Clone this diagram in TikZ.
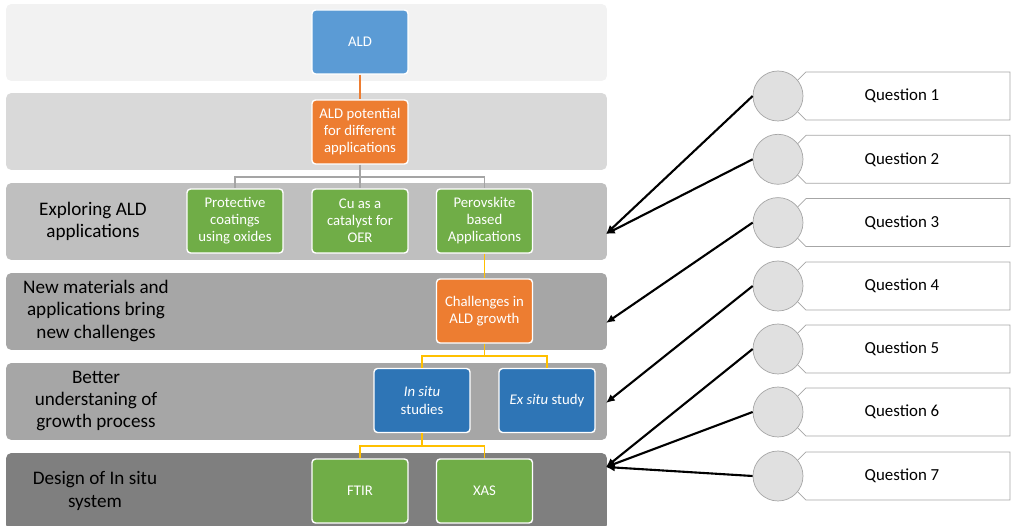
\documentclass[tikz,border=0pt]{standalone}
\usepackage{fontspec}
\setmainfont{Carlito}
\usetikzlibrary{arrows.meta,shapes.misc}
\definecolor{bandA}{HTML}{F2F2F2}
\definecolor{bandB}{HTML}{D9D9D9}
\definecolor{bandC}{HTML}{BFBFBF}
\definecolor{bandD}{HTML}{A6A6A6}
\definecolor{bandE}{HTML}{7F7F7F}
\definecolor{aldblue}{HTML}{5B9BD5}
\definecolor{darkblue}{HTML}{2E75B6}
\definecolor{aldorange}{HTML}{ED7D31}
\definecolor{aldgreen}{HTML}{70AD47}
\definecolor{linegrey}{HTML}{A5A5A5}
\definecolor{lineyellow}{HTML}{FFC000}
\definecolor{tabgrey}{HTML}{A6A6A6}
\definecolor{dotgrey}{HTML}{E0E0E0}
\begin{document}
\begin{tikzpicture}[x=0.02cm,y=-0.02cm,
        band/.style={rectangle,rounded corners=3pt,minimum width=12.02cm,minimum height=1.54cm,inner sep=0pt},
        bandtext/.style={align=center,text=black,font=\fontsize{10.9}{12.6}\selectfont},
        box/.style={rectangle,rounded corners=2pt,draw=white,line width=0.8pt,minimum width=1.92cm,minimum height=1.28cm,inner sep=0pt,align=center,text=white,font=\fontsize{8.4}{9.7}\selectfont},
        greybranch/.style={draw=linegrey,line width=0.7pt},
        yellowbranch/.style={draw=lineyellow,line width=0.7pt},
        qtab/.style={chamfered rectangle,chamfered rectangle corners={north west,south west},chamfered rectangle xsep=0.16cm,chamfered rectangle ysep=0.1cm,draw=tabgrey,fill=white,minimum width=4.32cm,minimum height=0.96cm,inner sep=0pt,font=\fontsize{9.6}{11}\selectfont},
        qdot/.style={circle,draw=tabgrey,fill=dotgrey,minimum size=1cm,inner sep=0pt},
        qarrow/.style={-{Latex[length=5pt,width=4.5pt]},line width=1.2pt,black}]
    \useasboundingbox (0,0) rectangle (1011,526);
    % bands
    \node[band,fill=bandA] (b1) at (306.5,42.5) {};
    \node[band,fill=bandB] (b2) at (306.5,131.5) {};
    \node[band,fill=bandC] (b3) at (306.5,221.5) {};
    \node[band,fill=bandD] (b4) at (306.5,311.5) {};
    \node[band,fill=bandD] (b5) at (306.5,401.5) {};
    \node[band,fill=bandE] (b6) at (306.5,491.5) {};
    \node[bandtext] (l3) at (93,221) {Exploring ALD\\applications};
    \node[bandtext] (l4) at (96,311) {New materials and\\applications bring\\new challenges};
    \node[bandtext] (l5) at (96,401) {Better\\understaning of\\growth process};
    \node[bandtext] (l6) at (95,491) {Design of In situ\\system};
    % boxes
    \node[box,fill=aldblue] (ald) at (360,42) {ALD};
    \node[box,fill=aldorange] (pot) at (360,132) {ALD potential\\for different\\applications};
    \node[box,fill=aldgreen] (prot) at (235,221) {Protective\\coatings\\using oxides};
    \node[box,fill=aldgreen] (cu) at (360,221) {Cu as a\\catalyst for\\OER};
    \node[box,fill=aldgreen] (perov) at (484.5,221) {Perovskite\\based\\Applications};
    \node[box,fill=aldorange] (chal) at (484.5,311) {Challenges in\\ALD growth};
    \node[box,fill=darkblue] (insitu) at (422,400.5) {\textit{In situ}\\studies};
    \node[box,fill=darkblue] (exsitu) at (547,400.5) {\textit{Ex situ} study};
    \node[box,fill=aldgreen] (ftir) at (360,491) {FTIR};
    \node[box,fill=aldgreen] (xas) at (484.5,491) {XAS};
    % branches
    \coordinate (j1) at (360,177);
    \coordinate (j2) at (484.5,356);
    \coordinate (j3) at (422,446);
    \draw[draw=aldorange,line width=0.7pt] (ald) -- (pot);
    \draw[greybranch] (pot) -- (j1) -| (prot);
    \draw[greybranch] (j1) -- (cu);
    \draw[greybranch] (j1) -| (perov);
    \draw[yellowbranch] (perov) -- (chal);
    \draw[yellowbranch] (chal) -- (j2) -| (insitu);
    \draw[yellowbranch] (j2) -| (exsitu);
    \draw[yellowbranch] (insitu) -- (j3) -| (ftir);
    \draw[yellowbranch] (j3) -| (xas);
    % questions
    \node[qtab] (q1) at (902,96) {Question 1};
    \node[qtab] (q2) at (902,159.3) {Question 2};
    \node[qtab] (q3) at (902,222.6) {Question 3};
    \node[qtab] (q4) at (902,286) {Question 4};
    \node[qtab] (q5) at (902,349) {Question 5};
    \node[qtab] (q6) at (902,412) {Question 6};
    \node[qtab] (q7) at (902,476) {Question 7};
    \node[qdot] (c1) at (778,96) {};
    \node[qdot] (c2) at (778,159.3) {};
    \node[qdot] (c3) at (778,222.6) {};
    \node[qdot] (c4) at (778,286) {};
    \node[qdot] (c5) at (778,349) {};
    \node[qdot] (c6) at (778,412) {};
    \node[qdot] (c7) at (778,476) {};
    % arrows to the bands
    \coordinate (t3) at (606,234);
    \coordinate (t4) at (606,323);
    \coordinate (t5) at (606,403);
    \coordinate (t6) at (606,467);
    \draw[qarrow] (c1.west) -- (t3);
    \draw[qarrow] (c2.west) -- (t3);
    \draw[qarrow] (c3.west) -- (t4);
    \draw[qarrow] (c4.west) -- (t5);
    \draw[qarrow] (c5.west) -- (t6);
    \draw[qarrow] (c6.west) -- (t6);
    \draw[qarrow] (c7.west) -- (t6);
\end{tikzpicture}
\end{document}
